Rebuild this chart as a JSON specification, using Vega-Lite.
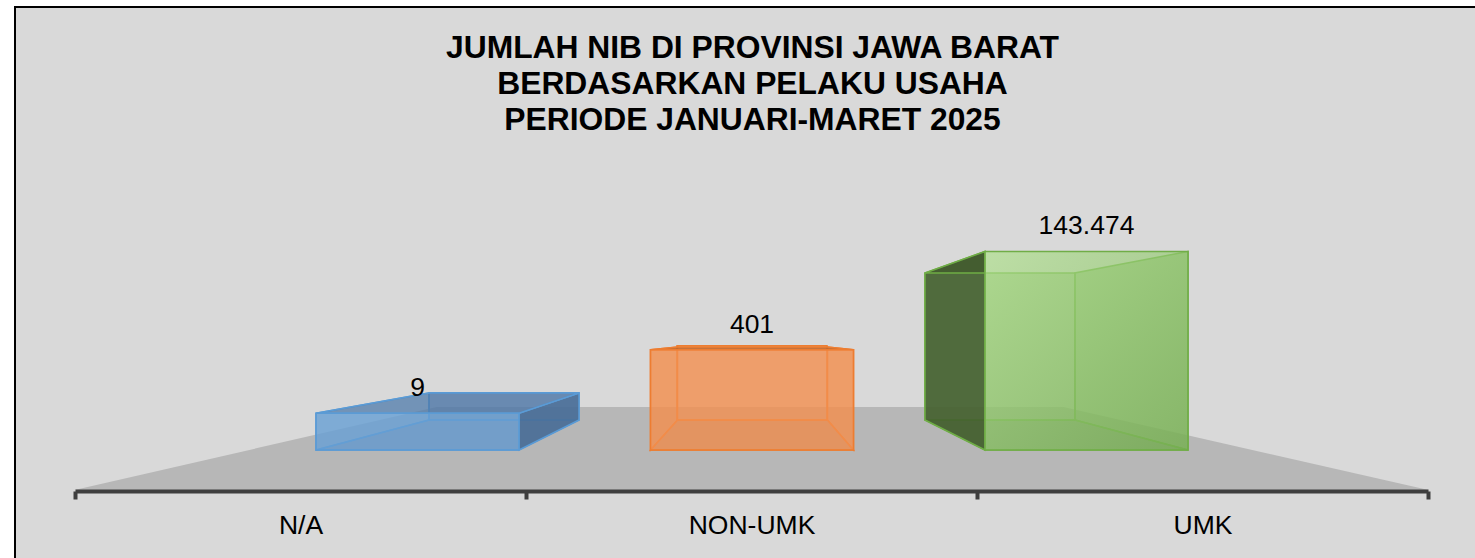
{
"$schema":"https://vega.github.io/schema/vega-lite/v6.json",
"autosize":{"type":"none"},
"padding":{"left":15,"top":7,"right":0,"bottom":0},
"width":1463,"height":553,
"background":"#ffffff",
"view":{"fill":"#d9d9d9","stroke":"#000000","strokeWidth":2},
"config":{"locale":{"number":{"decimal":",","thousands":".","grouping":[3],"currency":["",""]}},"font":"Liberation Sans"},
"title":{"text":["JUMLAH NIB DI PROVINSI JAWA BARAT","BERDASARKAN PELAKU USAHA","PERIODE JANUARI-MARET 2025"],"font":"Liberation Sans","fontSize":31.8,"fontWeight":"bold","color":"#000000","anchor":"middle","dx":6,"baseline":"top","lineHeight":36.3,"offset":-130},
"data":{"values":[{"category":"N/A","value":9},{"category":"NON-UMK","value":401},{"category":"UMK","value":143474}]},
"resolve":{"scale":{"x":"independent","y":"independent","shape":"independent","fill":"independent"}},
"layer":[
{"transform":[{"filter":"datum.category === 'NON-UMK'"}],
 "mark":{"type":"point","filled":true,"size":4,"opacity":1,"fill":"#b7b7b7","strokeWidth":0},
 "encoding":{
  "x":{"field":"category","type":"nominal","title":null,"scale":{"type":"band","domain":["N/A","NON-UMK","UMK"],"range":[60,1413],"paddingInner":0,"paddingOuter":0},
   "axis":{"orient":"bottom","offset":-69,"labelAngle":0,"labelFont":"Liberation Sans","labelFontSize":26.5,"labelColor":"#000000","labelPadding":13,"domainColor":"#3f3f3f","domainWidth":4,"tickColor":"#3f3f3f","tickWidth":4,"tickSize":8,"tickBand":"extent","grid":false,"zindex":1}},
  "y":{"datum":1,"type":"quantitative","scale":{"type":"log","domain":[1,1000000],"range":[483,252]},"axis":null},
  "shape":{"field":"category","type":"nominal","legend":null,"scale":{"domain":["N/A","NON-UMK","UMK"],"range":["M-677 0L677 0L312 -83L-315 -83Z","M-677 0L677 0L312 -83L-315 -83Z","M-677 0L677 0L312 -83L-315 -83Z"]}}
 }},
{"mark":{"type":"bar","strokeWidth":1.5},
 "encoding":{
  "x":{"field":"category","type":"nominal","axis":null,"scale":{"type":"band","domain":["N/A","NON-UMK","UMK"],"range":[414,1060],"paddingInner":0.395,"paddingOuter":0}},
  "y":{"field":"value","type":"quantitative","axis":null,"scale":{"type":"log","domain":[1,1000000],"range":[413,242]}},
  "y2":{"datum":1},
  "fill":{"field":"category","type":"nominal","legend":null,"scale":{"domain":["N/A","NON-UMK","UMK"],"range":["rgba(90,140,195,0.6)","rgba(237,125,49,0.5)","rgba(112,173,71,0.45)"]}},
  "stroke":{"field":"category","type":"nominal","legend":null,"scale":{"domain":["N/A","NON-UMK","UMK"],"range":["#5b9bd5","#ed7d31","#70ad47"]}}
 }},
{"mark":{"type":"point","filled":true,"size":4,"opacity":1,"strokeWidth":1.5},
 "encoding":{
  "x":{"field":"category","type":"nominal","axis":null,"scale":{"type":"band","domain":["N/A","NON-UMK","UMK"],"range":[301,1173],"paddingInner":0.3931,"paddingOuter":0}},
  "y":{"field":"value","type":"quantitative","axis":null,"scale":{"type":"log","domain":[1,1000000],"range":[443,212]}},
  "shape":{"field":"category","type":"nominal","legend":null,"scale":{"domain":["N/A","NON-UMK","UMK"],"range":["M-101.5 36.7L11.5 6.7L161.5 6.7L101.5 36.7Z","M-101.5 100.2L-74.5 70.2L75.5 70.2L101.5 100.2Z","M-101.5 198.5L-161.5 168.5L-11.5 168.5L101.5 198.5Z"]}},
  "fill":{"field":"category","type":"nominal","legend":null,"scale":{"domain":["N/A","NON-UMK","UMK"],"range":["rgba(80,130,185,0.5)","rgba(215,115,45,0.55)","rgba(95,150,60,0.55)"]}},
  "stroke":{"field":"category","type":"nominal","legend":null}
 }},
{"mark":{"type":"point","filled":true,"size":4,"opacity":1,"strokeWidth":1.5},
 "encoding":{
  "x":{"field":"category","type":"nominal","axis":null,"scale":{"type":"band","domain":["N/A","NON-UMK","UMK"],"range":[301,1173],"paddingInner":0.3931,"paddingOuter":0}},
  "y":{"field":"value","type":"quantitative","axis":null,"scale":{"type":"log","domain":[1,1000000],"range":[443,212]}},
  "shape":{"field":"category","type":"nominal","legend":null,"scale":{"domain":["N/A","NON-UMK","UMK"],"range":["M-101.5 0L11.5 -20.3L11.5 6.7L-101.5 36.7Z","M-101.5 0L-74.5 -2.8L-74.5 70.2L-101.5 100.2Z","M-101.5 0L-161.5 21.5L-161.5 168.5L-101.5 198.5Z"]}},
  "fill":{"field":"category","type":"nominal","legend":null,"scale":{"domain":["N/A","NON-UMK","UMK"],"range":["rgba(100,160,215,0.5)","rgba(237,125,49,0.55)","rgba(65,90,45,0.85)"]}},
  "stroke":{"field":"category","type":"nominal","legend":null}
 }},
{"mark":{"type":"point","filled":true,"size":4,"opacity":1,"strokeWidth":1.5},
 "encoding":{
  "x":{"field":"category","type":"nominal","axis":null,"scale":{"type":"band","domain":["N/A","NON-UMK","UMK"],"range":[301,1173],"paddingInner":0.3931,"paddingOuter":0}},
  "y":{"field":"value","type":"quantitative","axis":null,"scale":{"type":"log","domain":[1,1000000],"range":[443,212]}},
  "shape":{"field":"category","type":"nominal","legend":null,"scale":{"domain":["N/A","NON-UMK","UMK"],"range":["M101.5 0L161.5 -20.3L161.5 6.7L101.5 36.7Z","M101.5 0L75.5 -2.8L75.5 70.2L101.5 100.2Z","M101.5 0L-11.5 21.5L-11.5 168.5L101.5 198.5Z"]}},
  "fill":{"field":"category","type":"nominal","legend":null,"scale":{"domain":["N/A","NON-UMK","UMK"],"range":["rgba(70,105,145,0.8)","rgba(237,125,49,0.55)","rgba(112,173,71,0.55)"]}},
  "stroke":{"field":"category","type":"nominal","legend":null}
 }},
{"mark":{"type":"point","filled":true,"size":4,"opacity":1,"strokeWidth":1.5},
 "encoding":{
  "x":{"field":"category","type":"nominal","axis":null,"scale":{"type":"band","domain":["N/A","NON-UMK","UMK"],"range":[301,1173],"paddingInner":0.3931,"paddingOuter":0}},
  "y":{"field":"value","type":"quantitative","axis":null,"scale":{"type":"log","domain":[1,1000000],"range":[443,212]}},
  "shape":{"field":"category","type":"nominal","legend":null,"scale":{"domain":["N/A","NON-UMK","UMK"],"range":["M-101.5 0L11.5 -20.3L161.5 -20.3L101.5 0Z","M-101.5 0L-74.5 -2.8L75.5 -2.8L101.5 0Z","M-101.5 0L-161.5 21.5L-101.5 21.5Z"]}},
  "fill":{"field":"category","type":"nominal","legend":null,"scale":{"domain":["N/A","NON-UMK","UMK"],"range":["rgba(70,105,150,0.5)","rgba(190,100,40,0.8)","rgba(65,90,45,0.85)"]}},
  "stroke":{"field":"category","type":"nominal","legend":null}
 }},
{"mark":{"type":"bar","strokeWidth":1.5},
 "encoding":{
  "x":{"field":"category","type":"nominal","axis":null,"scale":{"type":"band","domain":["N/A","NON-UMK","UMK"],"range":[301,1173],"paddingInner":0.3931,"paddingOuter":0}},
  "y":{"field":"value","type":"quantitative","axis":null,"scale":{"type":"log","domain":[1,1000000],"range":[443,212]}},
  "y2":{"datum":1},
  "fill":{"condition":{"test":"datum.category === 'UMK'","value":{"gradient":"linear","x1":0,"y1":0,"x2":1,"y2":1,"stops":[{"offset":0,"color":"rgba(175,225,140,0.68)"},{"offset":1,"color":"rgba(120,175,85,0.62)"}]}},"field":"category","type":"nominal","legend":null,"scale":{"domain":["N/A","NON-UMK","UMK"],"range":["rgba(105,160,212,0.6)","rgba(245,150,90,0.6)","rgba(150,200,115,0.6)"]}},
  "stroke":{"field":"category","type":"nominal","legend":null}
 }},
{"mark":{"type":"text","font":"Liberation Sans","fontSize":26.5,"color":"#000000","dy":-25,"baseline":"middle"},
 "encoding":{
  "x":{"field":"category","type":"nominal","axis":null,"scale":{"type":"band","domain":["N/A","NON-UMK","UMK"],"range":[301,1173],"paddingInner":0.3931,"paddingOuter":0}},
  "y":{"field":"value","type":"quantitative","axis":null,"scale":{"type":"log","domain":[1,1000000],"range":[443,212]}},
  "text":{"field":"value","type":"quantitative","format":",d"}
 }}
]}
